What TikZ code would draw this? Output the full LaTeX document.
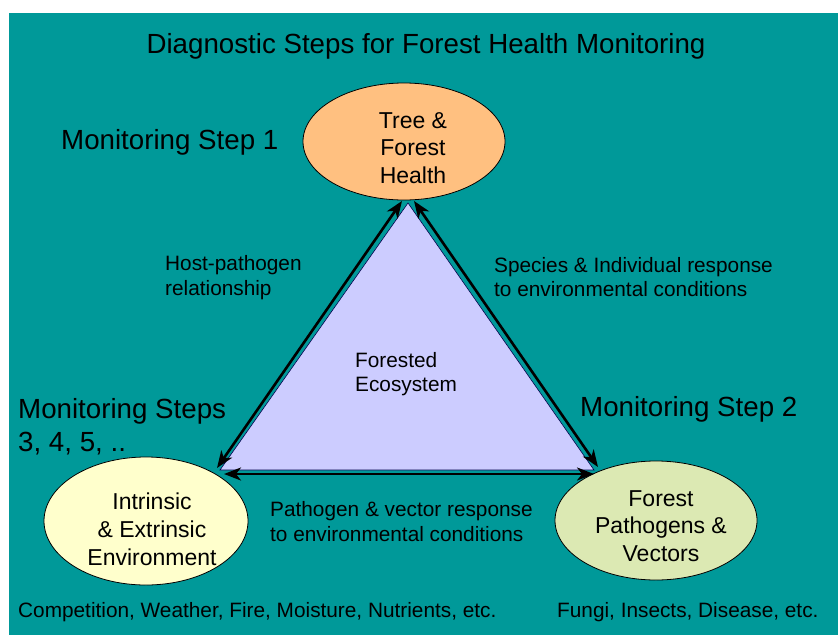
\documentclass[tikz,border=0pt]{standalone}
\usepackage{fontspec}
\setmainfont{Liberation Sans}
\usetikzlibrary{shapes.geometric,arrows.meta}
\definecolor{teal}{HTML}{009999}
\definecolor{orangefill}{HTML}{FFC080}
\definecolor{yellowfill}{HTML}{FFFFCC}
\definecolor{greenfill}{HTML}{DCE9B3}
\definecolor{lavender}{HTML}{CCCCFF}
\begin{document}
\begin{tikzpicture}[x=1pt,y=-1pt,
  big/.style={font=\fontsize{27.7}{33}\selectfont, inner sep=0pt, align=left},
  lbl/.style={font=\fontsize{20.8}{24.5}\selectfont, inner sep=0pt, align=left, anchor=west},
  etxt/.style={font=\fontsize{23}{27.8}\selectfont, inner sep=0pt, align=center},
  blob/.style={ellipse, draw=black, line width=0.8pt, inner sep=0pt},
  dbl/.style={line width=2.6pt, {Stealth[length=17pt,width=13pt,inset=5pt]}-{Stealth[length=17pt,width=13pt,inset=5pt]}}
]
\useasboundingbox (0,0) rectangle (838,635);
\fill[white] (0,0) rectangle (838,635);
\fill[teal] (9,13) rectangle (838,635);

% ellipses
\node[blob, fill=orangefill, minimum width=202pt, minimum height=117pt] (top) at (404,141.5) {};
\node[blob, fill=yellowfill, minimum width=204pt, minimum height=128pt] (bl) at (146,521) {};
\node[blob, fill=greenfill, minimum width=202pt, minimum height=119pt] (br) at (656,520.5) {};

% triangle
\coordinate (A) at (408,203);
\coordinate (B) at (220,470);
\coordinate (C) at (594,470);
\fill[lavender, draw=black!70!blue, line width=0.6pt] (A) -- (B) -- (C) -- cycle;

% arrows
\coordinate (l1) at (217,468);
\coordinate (l2) at (402,201);
\coordinate (r1) at (414,201);
\coordinate (r2) at (598,467);
\coordinate (b1) at (224,474);
\coordinate (b2) at (594,474);
\draw[dbl] (l1) -- (l2);
\draw[dbl] (r1) -- (r2);
\draw[dbl] (b1) -- (b2);

% texts
\node[big] (title) at (426,46.3) {Diagnostic Steps for Forest Health Monitoring};
\node[big, anchor=west] (s1) at (61,142) {Monitoring Step 1};
\node[big, anchor=west] (s3) at (18,426.3) {Monitoring Steps\\3, 4, 5, ..};
\node[big, anchor=west] (s2) at (580,409.8) {Monitoring Step 2};

\node[lbl] (hp) at (165,277.5) {Host-pathogen\\relationship};
\node[lbl] (sp) at (494,277) {Species \& Individual response\\to environmental conditions};
\node[lbl] (fe) at (355,374) {Forested\\Ecosystem};
\node[lbl] (pv) at (270,521.5) {Pathogen \& vector response\\to environmental conditions};
\node[lbl] (comp) at (18,612) {Competition, Weather, Fire, Moisture, Nutrients, etc.};
\node[lbl] (fung) at (557,612) {Fungi, Insects, Disease, etc.};

\node[etxt] (toptxt) at (413,148) {Tree \&\\Forest\\Health};
\node[etxt] (bltxt) at (152,529) {Intrinsic\\\& Extrinsic\\Environment};
\node[etxt] (brtxt) at (661,526) {Forest\\Pathogens \&\\Vectors};
\end{tikzpicture}
\end{document}
